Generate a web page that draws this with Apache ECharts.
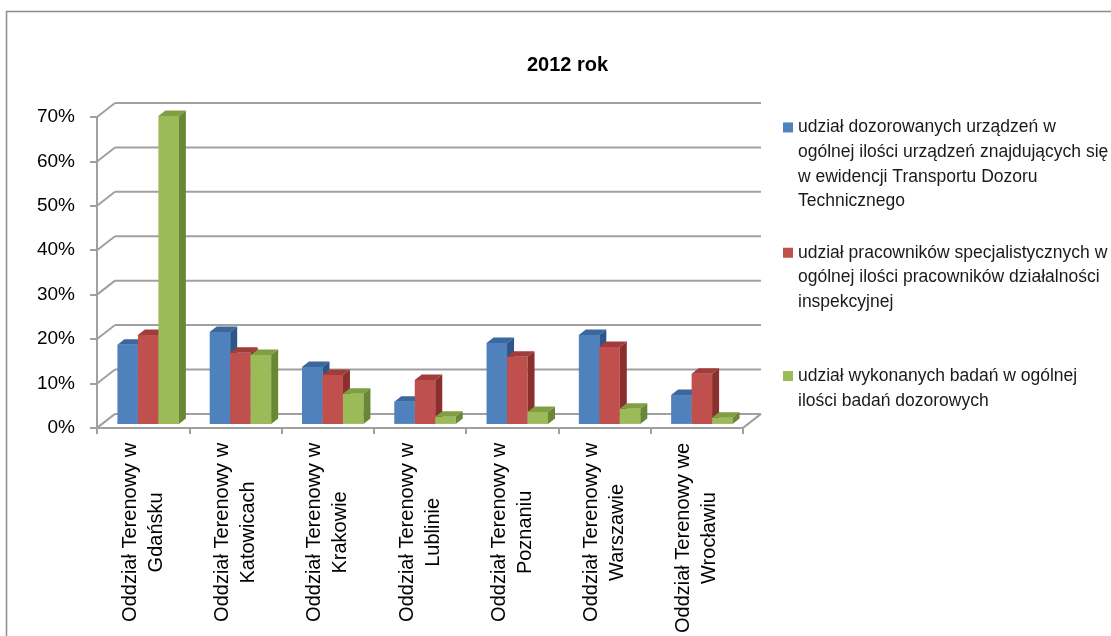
<!DOCTYPE html>
<html>
<head>
<meta charset="utf-8">
<script src="https://cdn.jsdelivr.net/npm/echarts@6/dist/echarts.min.js"></script>
<style>
  html, body { margin: 0; padding: 0; background: #ffffff; }
  #chart { width: 1111px; height: 636px; }
</style>
</head>
<body>
<div id="chart"></div>
<script>
// Regional branches (two-line labels)
const categories = [
  'Oddział Terenowy w\nGdańsku',
  'Oddział Terenowy w\nKatowicach',
  'Oddział Terenowy w\nKrakowie',
  'Oddział Terenowy w\nLublinie',
  'Oddział Terenowy w\nPoznaniu',
  'Oddział Terenowy w\nWarszawie',
  'Oddział Terenowy we\nWrocławiu'
];

const seriesNames = [
  'udział dozorowanych urządzeń w\nogólnej ilości urządzeń znajdujących się\nw ewidencji Transportu Dozoru\nTechnicznego',
  'udział pracowników specjalistycznych w\nogólnej ilości pracowników działalności\ninspekcyjnej',
  'udział wykonanych badań w ogólnej\nilości badań dozorowych'
];

// Shares per branch (fractions)
const devicesShare   = [0.178, 0.207, 0.128, 0.050, 0.182, 0.200, 0.065];
const staffShare     = [0.200, 0.160, 0.110, 0.099, 0.151, 0.173, 0.113];
const inspectShare   = [0.693, 0.155, 0.068, 0.016, 0.027, 0.034, 0.014];

const yTicks = [0, 0.1, 0.2, 0.3, 0.4, 0.5, 0.6, 0.7];
const chartTitle = '2012 rok';

// Colours: front face, top face, side face
const palette = [
  { front: '#4F81BD', top: '#3A679E', side: '#2D568A' },
  { front: '#C0504D', top: '#A03D3A', side: '#8A2F2C' },
  { front: '#9BBB59', top: '#809F42', side: '#6A8735' }
];

// Pseudo-3D projection: full depth of the plot box and bar placement in it
const DEPTH = [18, -14];
const BAR_FRONT = [5, -4];
const BAR_DEPTH = [7, -5.5];
const BAR_FRACTION = 0.222;
const GRID_COLOR = '#a0a0a0';
const FONT = '"Liberation Sans", Arial, sans-serif';

function renderWall(params, api) {
  const v = api.value(1);
  const band = api.size([1, 0])[0];
  const pL = api.coord([0, v]);
  const pR = api.coord([categories.length - 1, v]);
  const xL = pL[0] - band / 2;
  const xR = pR[0] + band / 2;
  const y = pL[1];
  const style = { stroke: GRID_COLOR, lineWidth: 2 };
  const children = [
    { type: 'line', shape: { x1: xL, y1: y, x2: xL + DEPTH[0], y2: y + DEPTH[1] }, style },
    { type: 'line', shape: { x1: xL + DEPTH[0], y1: y + DEPTH[1], x2: xR + DEPTH[0], y2: y + DEPTH[1] }, style }
  ];
  if (v === 0) {
    children.push({ type: 'line', shape: { x1: xR, y1: y, x2: xR + DEPTH[0], y2: y + DEPTH[1] }, style });
  }
  return { type: 'group', children };
}

function makeBarRenderer(k) {
  return function (params, api) {
    const cat = api.value(0);
    const val = api.value(1);
    const base = api.coord([cat, 0]);
    const top = api.coord([cat, val]);
    const band = api.size([1, 0])[0];
    const w = band * BAR_FRACTION;
    const x0 = base[0] - 1.5 * w + k * w + BAR_FRONT[0];
    const yb = base[1] + BAR_FRONT[1];
    const yt = top[1] + BAR_FRONT[1];
    const dx = BAR_DEPTH[0], dy = BAR_DEPTH[1];
    const c = palette[k];
    return {
      type: 'group',
      children: [
        { type: 'rect', shape: { x: x0, y: yt, width: w, height: yb - yt }, style: { fill: c.front } },
        { type: 'polygon', shape: { points: [[x0, yt], [x0 + w, yt], [x0 + w + dx, yt + dy], [x0 + dx, yt + dy]] }, style: { fill: c.top } },
        { type: 'polygon', shape: { points: [[x0 + w, yt], [x0 + w + dx, yt + dy], [x0 + w + dx, yb + dy], [x0 + w, yb]] }, style: { fill: c.side } }
      ]
    };
  };
}

const seriesData = [devicesShare, staffShare, inspectShare];

const chart = echarts.init(document.getElementById('chart'), null, { renderer: 'canvas' });

const legendLineHeight = 24.7;
const legendTops = [41, 191, 339];

chart.setOption({
  animation: false,
  backgroundColor: '#ffffff',
  textStyle: { fontFamily: FONT },
  title: {
    text: chartTitle,
    left: 527,
    top: 55,
    padding: 0,
    textStyle: { fontFamily: FONT, fontSize: 20, fontWeight: 'bold', color: '#000000' }
  },
  graphic: [{
    type: 'rect',
    shape: { x: 6.5, y: 11.5, width: 1200, height: 700 },
    style: { fill: null, stroke: '#8c8c8c', lineWidth: 1.5 },
    silent: true
  }],
  // One legend per series so each block can sit at its own height;
  // leading blank lines keep the swatch level with the first text line.
  legend: seriesNames.map((name, i) => {
    const n = name.split('\n').length;
    return {
      data: [name],
      orient: 'vertical',
      left: 783,
      top: legendTops[i],
      padding: 0,
      icon: 'rect',
      itemWidth: 10,
      itemHeight: 10,
      itemGap: 0,
      selectedMode: false,
      formatter: (label) => '\n'.repeat(n - 1) + label,
      textStyle: {
        fontFamily: FONT,
        fontSize: 17.5,
        color: '#1a1a1a',
        lineHeight: legendLineHeight
      }
    };
  }),
  grid: {
    left: 97,
    right: 368,
    top: 117,
    bottom: 208,
    containLabel: false
  },
  xAxis: {
    type: 'category',
    data: categories,
    boundaryGap: true,
    axisLine: { show: true, lineStyle: { color: GRID_COLOR, width: 2 } },
    axisTick: { show: true, length: 6, lineStyle: { color: GRID_COLOR, width: 2 } },
    splitLine: { show: false },
    axisLabel: {
      rotate: 90,
      margin: 15,
      interval: 0,
      fontFamily: FONT,
      fontSize: 20,
      color: '#000000',
      formatter: (v) => v.split('\n').map(s => '{a|' + s + '}').join('\n'),
      rich: { a: { align: 'center', fontFamily: FONT, fontSize: 20, lineHeight: 26, color: '#000000' } }
    }
  },
  yAxis: {
    type: 'value',
    min: 0,
    max: 0.7,
    interval: 0.1,
    axisLine: { show: true, lineStyle: { color: GRID_COLOR, width: 2 } },
    axisTick: { show: true, length: 7, lineStyle: { color: GRID_COLOR, width: 2 } },
    splitLine: { show: false },
    axisLabel: {
      margin: 22,
      fontFamily: FONT,
      fontSize: 19,
      color: '#000000',
      formatter: (v) => Math.round(v * 100) + '%'
    }
  },
  series: [
    {
      type: 'custom',
      name: 'walls',
      silent: true,
      clip: false,
      renderItem: renderWall,
      data: yTicks.map(v => [0, v]),
      z: 1
    }
  ].concat(seriesNames.map((name, k) => ({
    type: 'custom',
    name: name,
    clip: false,
    itemStyle: { color: palette[k].front },
    renderItem: makeBarRenderer(k),
    data: seriesData[k].map((v, i) => [i, v]),
    z: 2
  })))
});
</script>
</body>
</html>
